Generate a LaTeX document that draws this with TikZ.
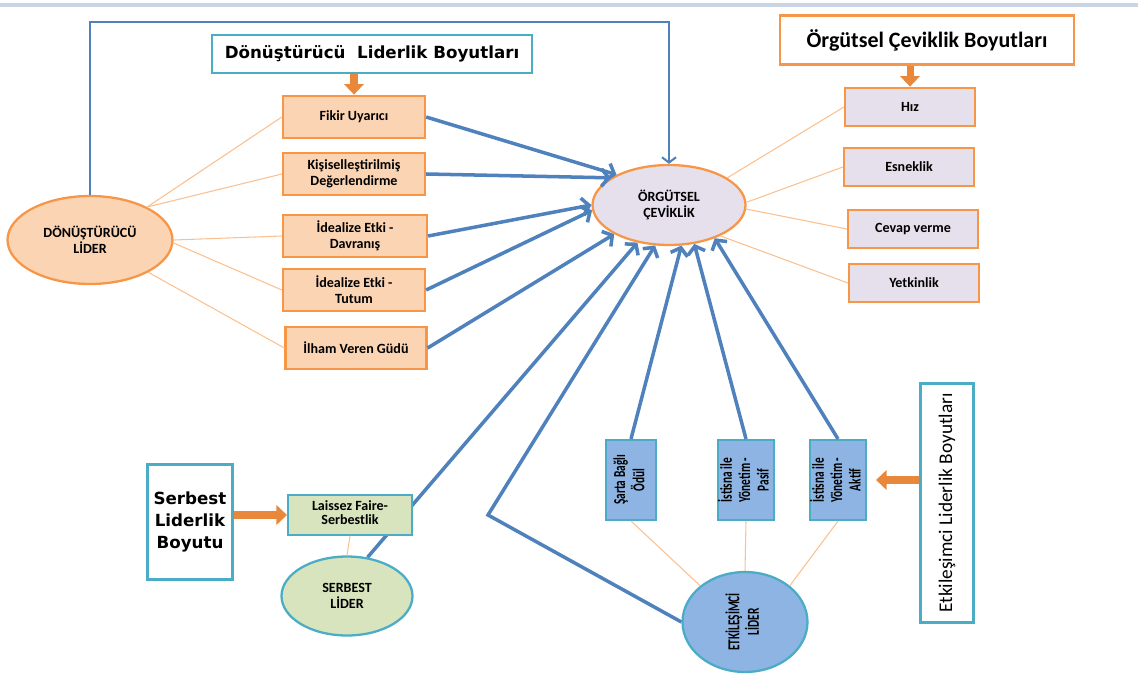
\documentclass[tikz,border=0pt]{standalone}
\usepackage{fontspec}
\setmainfont{Carlito}
\newfontfamily\genis{DejaVu Sans}
\usepackage{graphicx}
\usetikzlibrary{shapes.geometric, arrows.meta, backgrounds}
\definecolor{turuncu}{HTML}{F79646}
\definecolor{seftali}{HTML}{FBD4B4}
\definecolor{acikturuncu}{HTML}{FAC090}
\definecolor{mavi}{HTML}{4F81BD}
\definecolor{turkuaz}{HTML}{4BACC6}
\definecolor{acikmavi}{HTML}{8EB4E3}
\definecolor{yesil}{HTML}{D7E4BD}
\definecolor{lila}{HTML}{E5E0EC}
\definecolor{blokturuncu}{HTML}{E9883A}
\definecolor{cetvel}{HTML}{C9D5E6}
\tikzstyle{baslik} = [rectangle, draw=turkuaz, line width=1.2pt, fill=white, align=center]
\tikzstyle{donboyut} = [rectangle, minimum width=2.84cm, minimum height=0.85cm, align=center, draw=turuncu, line width=1.3pt, fill=seftali, font=\bfseries\fontsize{8}{9}\selectfont]
\tikzstyle{cevboyut} = [rectangle, minimum width=2.6cm, minimum height=0.77cm, draw=turuncu, line width=1.3pt, fill=lila, font=\bfseries\fontsize{8}{9}\selectfont]
\tikzstyle{etkboyut} = [rectangle, minimum width=1cm, minimum height=1.6cm, draw=turkuaz, line width=1.2pt, fill=acikmavi, inner sep=0pt]
\tikzstyle{lider} = [ellipse, align=center, inner sep=0pt, line width=1.3pt, font=\bfseries\fontsize{8}{9}\selectfont]
\tikzstyle{ince} = [acikturuncu, line width=0.6pt]
\tikzstyle{etki} = [mavi, line width=2pt, -{Straight Barb[length=4pt,width=10pt]}]
\tikzstyle{blok} = [blokturuncu, line width=4pt, -{Triangle[length=6pt,width=11pt]}]
\newcommand{\dikyazi}[1]{\rotatebox{90}{\scalebox{0.68}[1]{\bfseries\fontsize{9.5}{10.5}\selectfont\begin{tabular}{@{}c@{}}#1\end{tabular}}}}

\begin{document}
\begin{tikzpicture}[x=0.02cm, y=-0.02cm]
		\useasboundingbox (0,0) rectangle (1138,675);
		\fill [cetvel] (0,3) rectangle (1138,7);
		\node (dlb)[baslik, minimum width=6.4cm, minimum height=0.76cm, font=\genis\bfseries\fontsize{9.5}{11}\selectfont] at (372,54) {Dönüştürücü\ \ Liderlik Boyutları};
		\node (Fikir)[donboyut] at (354,117) {Fikir Uyarıcı};
		\node (Kisisel)[donboyut] at (354,174) {Kişiselleştirilmiş\\Değerlendirme};
		\node (Davranis)[donboyut, minimum width=2.88cm] at (355,236) {İdealize Etki -\\Davranış};
		\node (Tutum)[donboyut] at (354,290) {İdealize Etki -\\Tutum};
		\node (Ilham)[donboyut, minimum width=2.82cm] at (356,348) {İlham Veren Güdü};
		\node (DonLider)[lider, draw=turuncu, fill=seftali, minimum width=3.3cm, minimum height=1.76cm] at (90,240) {DÖNÜŞTÜRÜCÜ\\LİDER};
		\node (Orgutsel)[lider, draw=turuncu, fill=lila, minimum width=3.06cm, minimum height=1.6cm] at (669,205) {ÖRGÜTSEL\\ÇEVİKLİK};
		\node (ocb)[baslik, draw=turuncu, minimum width=5.88cm, minimum height=0.98cm, font=\bfseries\fontsize{12.5}{14}\selectfont] at (927,40) {Örgütsel Çeviklik Boyutları};
		\node (Hiz)[cevboyut] at (910,107) {Hız};
		\node (Esneklik)[cevboyut] at (909,167) {Esneklik};
		\node (Cevap)[cevboyut] at (913,229) {Cevap verme};
		\node (Yetkinlik)[cevboyut] at (914,283) {Yetkinlik};
		\node (Sarta)[etkboyut] at (631,480) {\dikyazi{Şarta Bağlı\\Ödül}};
		\node (Pasif)[etkboyut, minimum width=1.04cm] at (746,480) {\dikyazi{İstisna ile\\Yönetim -\\Pasif}};
		\node (Aktif)[etkboyut] at (838,480) {\dikyazi{İstisna ile\\Yönetim -\\Aktif}};
		\node (EtkLider)[lider, draw=turkuaz, fill=acikmavi, minimum width=2.5cm, minimum height=2cm] at (745,622) {\dikyazi{ETKİLEŞİMCİ\\LİDER}};
		\node (elb)[baslik, minimum width=1.06cm, minimum height=4.78cm] at (947,503) {\rotatebox{90}{\fontsize{11}{12}\selectfont Etkileşimci Liderlik Boyutları}};
		\node (slb)[baslik, minimum width=1.7cm, minimum height=2.3cm, font=\genis\bfseries\fontsize{9.5}{12.5}\selectfont] at (190,522) {Serbest\\Liderlik\\Boyutu};
		\node (Laissez)[rectangle, draw=turkuaz, line width=1.2pt, fill=yesil, minimum width=2.48cm, minimum height=0.64cm, align=center, font=\bfseries\fontsize{8}{7.6}\selectfont] at (350,515) {\raisebox{3pt}{\begin{tabular}{@{}c@{}}Laissez Faire-\\Serbestlik\end{tabular}}};
		\node (SerLider)[lider, draw=turkuaz, fill=yesil, minimum width=2.62cm, minimum height=1.58cm] at (347,596) {SERBEST\\LİDER};
		\coordinate (ust) at (0,22);
		\coordinate (kirik) at (488,515);
		\begin{pgfonlayer}{background}
			\draw [etki] (SerLider.62) -- (Orgutsel.230);
		\end{pgfonlayer}
		\draw [etki, line width=1.2pt, -{Straight Barb[length=3pt,width=8pt]}] (DonLider.north) -- (DonLider.north |- ust) -| (Orgutsel.north);
		\draw [blok] (dlb.south -| Fikir.north) -- (Fikir.north);
		\draw [blok] (ocb.south -| Hiz.north) -- (Hiz.north);
		\draw [blok] (slb.east |- Laissez.west) -- (Laissez.west);
		\draw [blok, shorten >=5pt] (elb.west |- Aktif.east) -- (Aktif.east);
		\draw [ince] (DonLider.30) -- (Fikir.west);
		\draw [ince] (DonLider.30) -- (Kisisel.west);
		\draw [ince] (DonLider.0) -- (Davranis.west);
		\draw [ince] (DonLider.358) -- (Tutum.west);
		\draw [ince] (DonLider.331) -- (Ilham.west);
		\draw [ince] (Orgutsel.25) -- (Hiz.west);
		\draw [ince] (Orgutsel.2) -- (Esneklik.west);
		\draw [ince] (Orgutsel.357) -- (Cevap.west);
		\draw [ince] (Orgutsel.329) -- (Yetkinlik.west);
		\draw [ince] (Laissez.south) -- (SerLider.north);
		\draw [ince] (Sarta.south) -- (EtkLider.141);
		\draw [ince] (Pasif.south) -- (EtkLider.north);
		\draw [ince] (Aktif.south) -- (EtkLider.39);
		\draw [etki] (Fikir.east) -- (Orgutsel.150);
		\draw [etki] (Kisisel.east) -- (Orgutsel.155);
		\draw [etki] (Davranis.east) -- (Orgutsel.180);
		\draw [etki] (Tutum.east) -- (Orgutsel.184);
		\draw [etki] (Ilham.east) -- (Orgutsel.208);
		\draw [etki] (EtkLider.180) -- (kirik) -- (Orgutsel.251);
		\draw [etki] (Sarta.north) -- (Orgutsel.287);
		\draw [etki] (Pasif.north) -- (Orgutsel.303);
		\draw [etki] (Aktif.north) -- (Orgutsel.324);
	\end{tikzpicture}
\end{document}
